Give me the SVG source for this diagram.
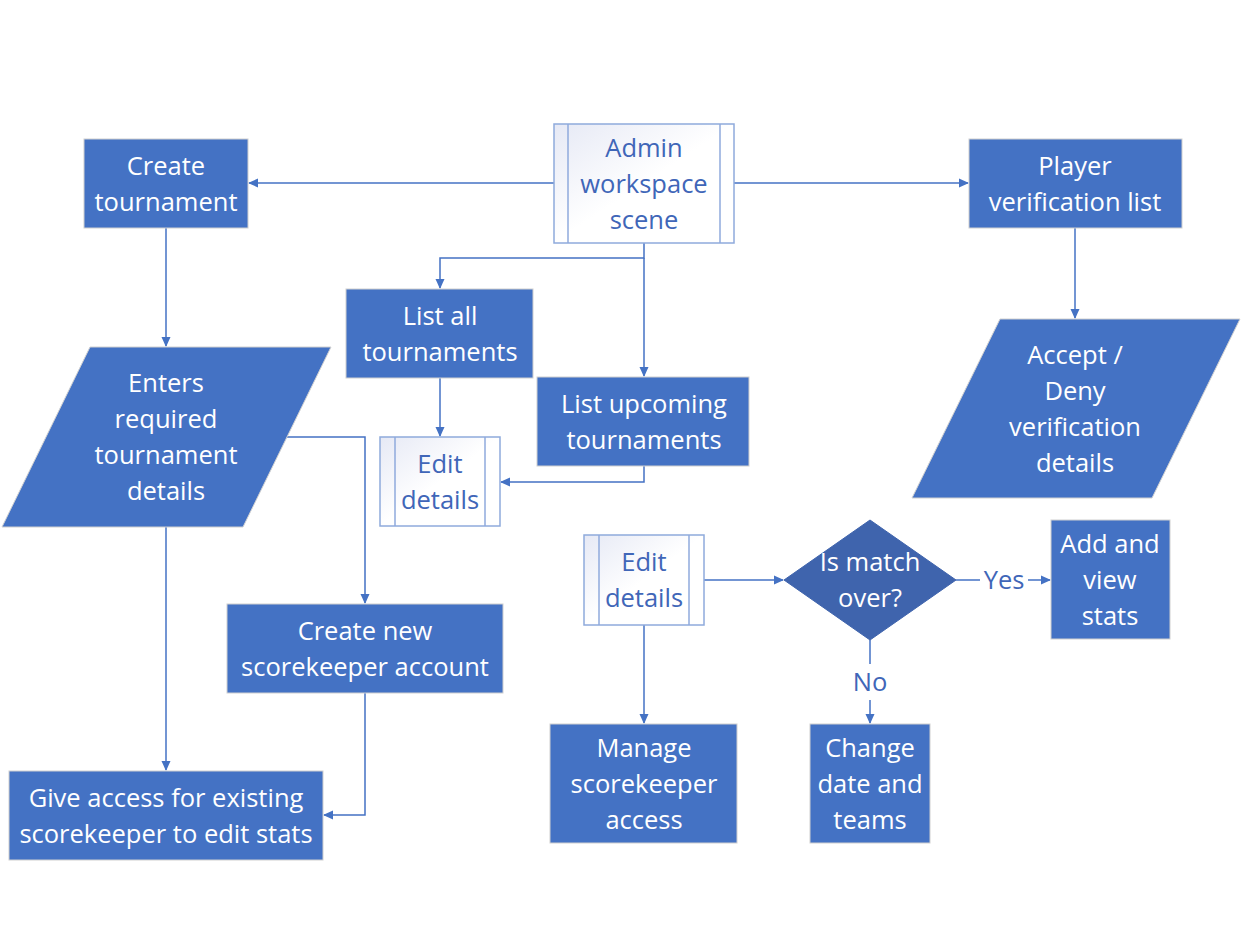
<svg xmlns="http://www.w3.org/2000/svg" width="1242" height="946" viewBox="0 0 1242 946">
<defs>
<linearGradient id="sub" x1="0" y1="0" x2="1" y2="1">
<stop offset="0" stop-color="#E6E9F5"/>
<stop offset="0.5" stop-color="#FFFFFF"/>
<stop offset="1" stop-color="#FFFFFF"/>
</linearGradient>
<marker id="ah" markerWidth="10" markerHeight="10" refX="9" refY="5" orient="auto" markerUnits="userSpaceOnUse">
<path d="M0,0.5 L10,5 L0,9.5 Z" fill="#4472C4"/>
</marker>
</defs>
<style>
.box{fill:#4472C4;stroke:#D0D0D0;stroke-width:1}
.dia{fill:#3F64AD;stroke:#3F64AD;stroke-width:1}
.sub{fill:url(#sub);stroke:#8FAADC;stroke-width:1.5}
.subl{stroke:#8FAADC;stroke-width:1.5;fill:none}
.t{font-family:"Open Sans","Noto Sans",sans-serif;font-size:25.5px;fill:#FFFFFF;text-anchor:middle}
.tb{font-family:"Open Sans","Noto Sans",sans-serif;font-size:25.5px;fill:#4066B8;text-anchor:middle}
.c{fill:none;stroke:#4472C4;stroke-width:1.5}
.ca{fill:none;stroke:#4472C4;stroke-width:1.5;marker-end:url(#ah)}
</style>
<rect width="1242" height="946" fill="#FFFFFF"/>
<g id="connectors">
<path class="ca" d="M554,183 H249"/>
<path class="ca" d="M734,183 H968"/>
<path class="ca" d="M644,243 V258 H440 V288"/>
<path class="ca" d="M644,258 V376"/>
<path class="ca" d="M166,228 V346"/>
<path class="ca" d="M1075,228 V318"/>
<path class="ca" d="M440,378 V436"/>
<path class="ca" d="M644,466 V482 H501"/>
<path class="ca" d="M287,437 H365 V603"/>
<path class="ca" d="M166,527 V770"/>
<path class="ca" d="M365,693 V815 H324"/>
<path class="ca" d="M704,580 H783"/>
<path class="ca" d="M644,625 V723"/>
<path class="c" d="M956,580 H980"/>
<path class="ca" d="M1028,580 H1050"/>
<text class="tb" x="1004" y="589">Yes</text>
<path class="c" d="M870,640 V664"/>
<path class="ca" d="M870,700 V723"/>
<text class="tb" x="870" y="691">No</text>
</g>
<g id="admin">
<rect class="sub" x="554" y="124" width="180" height="119"/>
<line class="subl" x1="568" y1="124" x2="568" y2="243"/>
<line class="subl" x1="720" y1="124" x2="720" y2="243"/>
<text class="tb" x="644" y="157">Admin</text>
<text class="tb" x="644" y="193">workspace</text>
<text class="tb" x="644" y="229">scene</text>
</g>
<g id="create-tournament">
<rect class="box" x="84" y="139" width="164" height="89"/>
<text class="t" x="166" y="175">Create</text>
<text class="t" x="166" y="211">tournament</text>
</g>
<g id="player-verification">
<rect class="box" x="969" y="139" width="213" height="89"/>
<text class="t" x="1075" y="175">Player</text>
<text class="t" x="1075" y="211">verification list</text>
</g>
<g id="list-all">
<rect class="box" x="346" y="289" width="187" height="89"/>
<text class="t" x="440" y="325">List all</text>
<text class="t" x="440" y="361">tournaments</text>
</g>
<g id="list-upcoming">
<rect class="box" x="537" y="377" width="212" height="89"/>
<text class="t" x="644" y="413">List upcoming</text>
<text class="t" x="644" y="449">tournaments</text>
</g>
<g id="edit-details-1">
<rect class="sub" x="380" y="437" width="120" height="89"/>
<line class="subl" x1="395" y1="437" x2="395" y2="526"/>
<line class="subl" x1="485" y1="437" x2="485" y2="526"/>
<text class="tb" x="440" y="473">Edit</text>
<text class="tb" x="440" y="509">details</text>
</g>
<g id="enters-details">
<polygon class="box" points="90,347 331,347 243,527 2,527"/>
<text class="t" x="166" y="392">Enters</text>
<text class="t" x="166" y="428">required</text>
<text class="t" x="166" y="464">tournament</text>
<text class="t" x="166" y="500">details</text>
</g>
<g id="accept-deny">
<polygon class="box" points="1000,319 1240,319 1152,498 912,498"/>
<text class="t" x="1075" y="364">Accept /</text>
<text class="t" x="1075" y="400">Deny</text>
<text class="t" x="1075" y="436">verification</text>
<text class="t" x="1075" y="472">details</text>
</g>
<g id="create-scorekeeper">
<rect class="box" x="227" y="604" width="276" height="89"/>
<text class="t" x="365" y="640">Create new</text>
<text class="t" x="365" y="676">scorekeeper account</text>
</g>
<g id="give-access">
<rect class="box" x="9" y="771" width="314" height="89"/>
<text class="t" x="166" y="807">Give access for existing</text>
<text class="t" x="166" y="843">scorekeeper to edit stats</text>
</g>
<g id="edit-details-2">
<rect class="sub" x="584" y="535" width="120" height="90"/>
<line class="subl" x1="599" y1="535" x2="599" y2="625"/>
<line class="subl" x1="689" y1="535" x2="689" y2="625"/>
<text class="tb" x="644" y="571">Edit</text>
<text class="tb" x="644" y="607">details</text>
</g>
<g id="is-match-over">
<polygon class="dia" points="870,520 956,580 870,640 784,580"/>
<text class="t" x="870" y="571">Is match</text>
<text class="t" x="870" y="607">over?</text>
</g>
<g id="add-view-stats">
<rect class="box" x="1051" y="520" width="119" height="119"/>
<text class="t" x="1110" y="553">Add and</text>
<text class="t" x="1110" y="589">view</text>
<text class="t" x="1110" y="625">stats</text>
</g>
<g id="manage-access">
<rect class="box" x="550" y="724" width="187" height="119"/>
<text class="t" x="644" y="757">Manage</text>
<text class="t" x="644" y="793">scorekeeper</text>
<text class="t" x="644" y="829">access</text>
</g>
<g id="change-date">
<rect class="box" x="810" y="724" width="120" height="119"/>
<text class="t" x="870" y="757">Change</text>
<text class="t" x="870" y="793">date and</text>
<text class="t" x="870" y="829">teams</text>
</g>
</svg>
